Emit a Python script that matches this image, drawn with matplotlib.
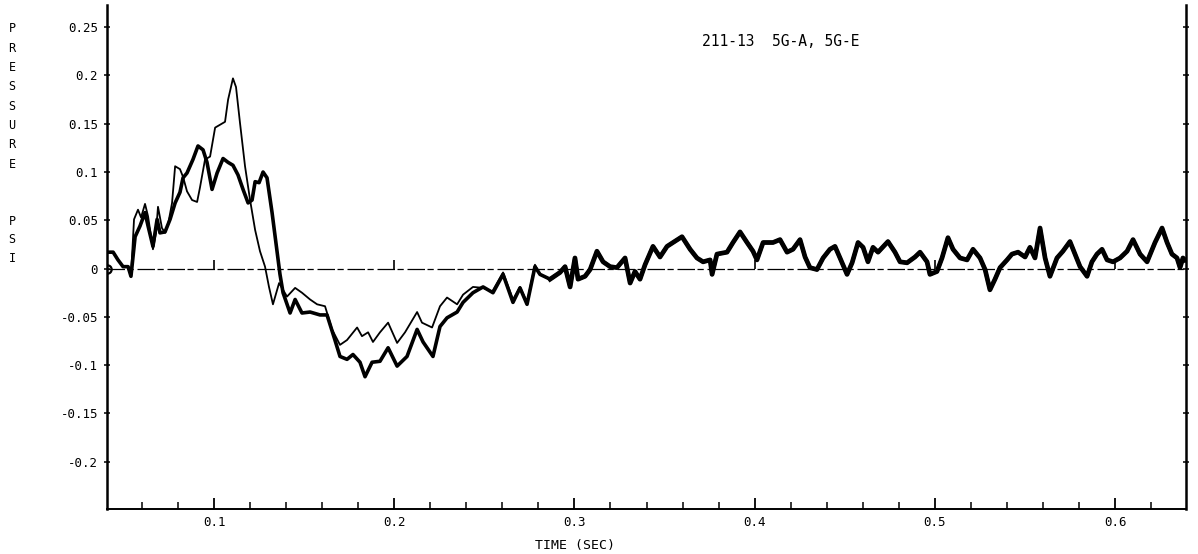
import numpy as np
from matplotlib import pyplot as plt
from matplotlib.ticker import FixedLocator, FuncFormatter

# shared start (both gauges sit together before the pulse arrives)
t_start = [0.0406, 0.0440, 0.0467, 0.0495, 0.0523, 0.0539]
p_start = [0.017, 0.017, 0.009, 0.002, 0.002, -0.008]

# thin trace (5G-A)
t_thin = [0.0556, 0.0578, 0.0595, 0.0617, 0.0634, 0.0661, 0.0678, 0.0689, 0.0711, 0.0728,
          0.0745, 0.0767, 0.0784, 0.0811, 0.0828, 0.0850, 0.0878, 0.0906, 0.0922, 0.0950,
          0.0978, 0.1006, 0.1033, 0.1061, 0.1078, 0.1105, 0.1122, 0.1144, 0.1172, 0.1200,
          0.1228, 0.1255, 0.1283, 0.1305, 0.1327, 0.1361, 0.1405, 0.1450, 0.1488, 0.1533,
          0.1572, 0.1616, 0.1655, 0.1699, 0.1738, 0.1794, 0.1821, 0.1855, 0.1882, 0.1921,
          0.1966, 0.2016, 0.2060, 0.2127, 0.2154, 0.2210, 0.2254, 0.2293, 0.2349, 0.2382,
          0.2437, 0.2493, 0.2543, 0.2604, 0.2659, 0.2698, 0.2737, 0.2781, 0.2809]
p_thin = [0.051, 0.061, 0.053, 0.067, 0.054, 0.020, 0.037, 0.064, 0.042, 0.037,
          0.046, 0.068, 0.106, 0.103, 0.095, 0.080, 0.071, 0.069, 0.084, 0.113,
          0.116, 0.146, 0.149, 0.152, 0.175, 0.197, 0.188, 0.151, 0.106, 0.071,
          0.040, 0.018, 0.002, -0.019, -0.037, -0.015, -0.029, -0.020, -0.025, -0.032,
          -0.037, -0.039, -0.063, -0.079, -0.074, -0.061, -0.070, -0.066, -0.076, -0.066,
          -0.056, -0.077, -0.066, -0.045, -0.056, -0.061, -0.039, -0.030, -0.037, -0.027,
          -0.019, -0.020, -0.024, -0.004, -0.032, -0.019, -0.035, 0.004, -0.006]

# thick trace (5G-E)
t_thick = [0.0562, 0.0589, 0.0617, 0.0634, 0.0661, 0.0684, 0.0700, 0.0728, 0.0756, 0.0784,
           0.0811, 0.0828, 0.0850, 0.0883, 0.0911, 0.0939, 0.0961, 0.0989, 0.1017, 0.1050,
           0.1078, 0.1105, 0.1133, 0.1161, 0.1189, 0.1211, 0.1228, 0.1250, 0.1272, 0.1294,
           0.1322, 0.1350, 0.1366, 0.1383, 0.1422, 0.1450, 0.1488, 0.1533, 0.1588, 0.1627,
           0.1671, 0.1699, 0.1738, 0.1771, 0.1810, 0.1838, 0.1877, 0.1921, 0.1966, 0.2016,
           0.2071, 0.2127, 0.2160, 0.2215, 0.2254, 0.2293, 0.2349, 0.2382, 0.2437, 0.2493,
           0.2548, 0.2604, 0.2659, 0.2698, 0.2737, 0.2781, 0.2809]
p_thick = [0.033, 0.044, 0.058, 0.044, 0.023, 0.051, 0.037, 0.038, 0.051, 0.068,
           0.079, 0.094, 0.099, 0.113, 0.127, 0.123, 0.110, 0.082, 0.099, 0.114,
           0.110, 0.107, 0.097, 0.082, 0.068, 0.071, 0.090, 0.089, 0.100, 0.094,
           0.058, 0.017, -0.006, -0.025, -0.046, -0.032, -0.046, -0.045, -0.048, -0.048,
           -0.074, -0.091, -0.094, -0.089, -0.097, -0.112, -0.097, -0.096, -0.082, -0.101,
           -0.091, -0.063, -0.076, -0.091, -0.060, -0.051, -0.045, -0.035, -0.025, -0.019,
           -0.025, -0.006, -0.035, -0.020, -0.037, 0.002, -0.006]

# shared tail, the two traces overlap from here on
t_tail = [0.2865, 0.2920, 0.2948, 0.2976, 0.3003, 0.3020, 0.3059, 0.3087, 0.3125, 0.3159,
          0.3198, 0.3236, 0.3281, 0.3309, 0.3336, 0.3364, 0.3392, 0.3436, 0.3475, 0.3514,
          0.3547, 0.3597, 0.3642, 0.3680, 0.3714, 0.3753, 0.3764, 0.3791, 0.3847, 0.3880,
          0.3919, 0.3958, 0.3991, 0.4013, 0.4047, 0.4102, 0.4141, 0.4180, 0.4213, 0.4252,
          0.4280, 0.4307, 0.4346, 0.4380, 0.4418, 0.4446, 0.4474, 0.4513, 0.4541, 0.4574,
          0.4602, 0.4629, 0.4657, 0.4685, 0.4740, 0.4779, 0.4807, 0.4846, 0.4890, 0.4918,
          0.4957, 0.4973, 0.5012, 0.5040, 0.5073, 0.5101, 0.5140, 0.5179, 0.5212, 0.5251,
          0.5279, 0.5306, 0.5334, 0.5362, 0.5401, 0.5428, 0.5462, 0.5501, 0.5528, 0.5556,
          0.5584, 0.5612, 0.5639, 0.5678, 0.5711, 0.5750, 0.5778, 0.5806, 0.5845, 0.5872,
          0.5900, 0.5928, 0.5956, 0.5989, 0.6028, 0.6067, 0.6100, 0.6139, 0.6178, 0.6222,
          0.6261, 0.6289, 0.6316, 0.6344, 0.6361, 0.6377, 0.6388]
p_tail = [-0.011, -0.004, 0.002, -0.019, 0.011, -0.011, -0.008, -0.001, 0.018, 0.007,
          0.002, 0.001, 0.011, -0.015, -0.003, -0.011, 0.004, 0.023, 0.012, 0.023,
          0.027, 0.033, 0.020, 0.011, 0.007, 0.009, -0.006, 0.015, 0.017, 0.027,
          0.038, 0.027, 0.018, 0.009, 0.027, 0.027, 0.030, 0.017, 0.020, 0.030,
          0.012, 0.001, -0.001, 0.011, 0.020, 0.023, 0.011, -0.006, 0.006, 0.027,
          0.022, 0.007, 0.022, 0.017, 0.028, 0.017, 0.007, 0.006, 0.012, 0.017,
          0.007, -0.006, -0.003, 0.011, 0.032, 0.020, 0.011, 0.009, 0.020, 0.011,
          -0.001, -0.022, -0.011, 0.001, 0.009, 0.015, 0.017, 0.012, 0.022, 0.011,
          0.042, 0.011, -0.008, 0.011, 0.018, 0.028, 0.015, 0.002, -0.008, 0.007,
          0.015, 0.020, 0.009, 0.007, 0.011, 0.018, 0.030, 0.015, 0.007, 0.027,
          0.042, 0.027, 0.015, 0.011, 0.001, 0.011, 0.009]

y_ticks = [-0.2, -0.15, -0.1, -0.05, 0, 0.05, 0.1, 0.15, 0.2, 0.25]
y_tick_labels = ["-0.2", "-0.15", "-0.1", "-0.05", "0", "0.05", "0.1", "0.15", "0.2", "0.25"]
x_major = [0.1, 0.2, 0.3, 0.4, 0.5, 0.6]
x_minor = [0.06, 0.08, 0.12, 0.14, 0.16, 0.18, 0.22, 0.24, 0.26, 0.28, 0.32, 0.34, 0.36, 0.38,
           0.42, 0.44, 0.46, 0.48, 0.52, 0.54, 0.56, 0.58, 0.62]

title_text = "211-13  5G-A, 5G-E"
x_label = "TIME (SEC)"
y_label_1 = "PRESSURE"
y_label_2 = "PSI"


def main():
    plt.rcParams['font.family'] = ['DejaVu Sans Mono']
    fig = plt.figure(figsize=(11.98, 5.54), dpi=100)
    ax = fig.add_axes([107 / 1198, 45 / 554, 1079 / 1198, 504 / 554])

    x_lo, x_hi = 0.0406, 0.6394
    ax.set_xlim(x_lo, x_hi)
    ax.set_ylim(-0.249, 0.273)

    # broken zero reference line with the little "I" marks on it
    ax.plot([x_lo, x_hi], [0, 0], color='black', lw=0.9, dashes=(14, 2, 5, 3),
            marker='o', mfc='none', mec='black', ms=6, mew=1.6, markevery=[0])
    ax.vlines(x_major, 0, 0.009, color='black', lw=1.2)

    thin_t = t_start + t_thin + t_tail
    thin_p = p_start + p_thin + p_tail
    thick_t = t_start + t_thick + t_tail
    thick_p = p_start + p_thick + p_tail

    ax.plot(thick_t, thick_p, color='black', lw=2.6, solid_joinstyle='round')
    ax.plot(thin_t, thin_p, color='black', lw=1.3, solid_joinstyle='round')
    # the overlapping tail prints as a heavier band
    ax.plot(t_tail, p_tail, color='black', lw=3.4, solid_joinstyle='round')

    for side in ['left', 'right']:
        ax.spines[side].set_linewidth(1.8)
    ax.spines['bottom'].set_linewidth(1.4)
    ax.spines['top'].set_visible(False)

    ax.xaxis.set_major_locator(FixedLocator(x_major))
    ax.xaxis.set_minor_locator(FixedLocator(x_minor))
    ax.xaxis.set_major_formatter(FuncFormatter(lambda v, pos: "%g" % v))
    ax.tick_params(axis='x', which='major', direction='in', length=8, width=1.3,
                   labelsize=9, pad=5)
    ax.tick_params(axis='x', which='minor', direction='in', length=5, width=1.1)

    ax.set_yticks(y_ticks)
    ax.set_yticklabels(y_tick_labels)
    ax.tick_params(axis='y', direction='inout', length=5, width=1.1, labelsize=9,
                   pad=4, right=True)

    fig.text(702 / 1198, 1 - 42 / 554, title_text, fontsize=10.5, va='center', ha='left')
    fig.text(575 / 1198, 1 - 545 / 554, x_label, fontsize=9.5, va='center', ha='center')

    # stacked letters for the vertical axis title
    for i, letter in enumerate(y_label_1):
        fig.text(12 / 1198, 1 - (29 + i * 19.3) / 554, letter, fontsize=8.5,
                 va='center', ha='center')
    for i, letter in enumerate(y_label_2):
        fig.text(12 / 1198, 1 - (222 + i * 18) / 554, letter, fontsize=8.5,
                 va='center', ha='center')

    plt.savefig('out.png', dpi=100)


if __name__ == "__main__":
    main()
